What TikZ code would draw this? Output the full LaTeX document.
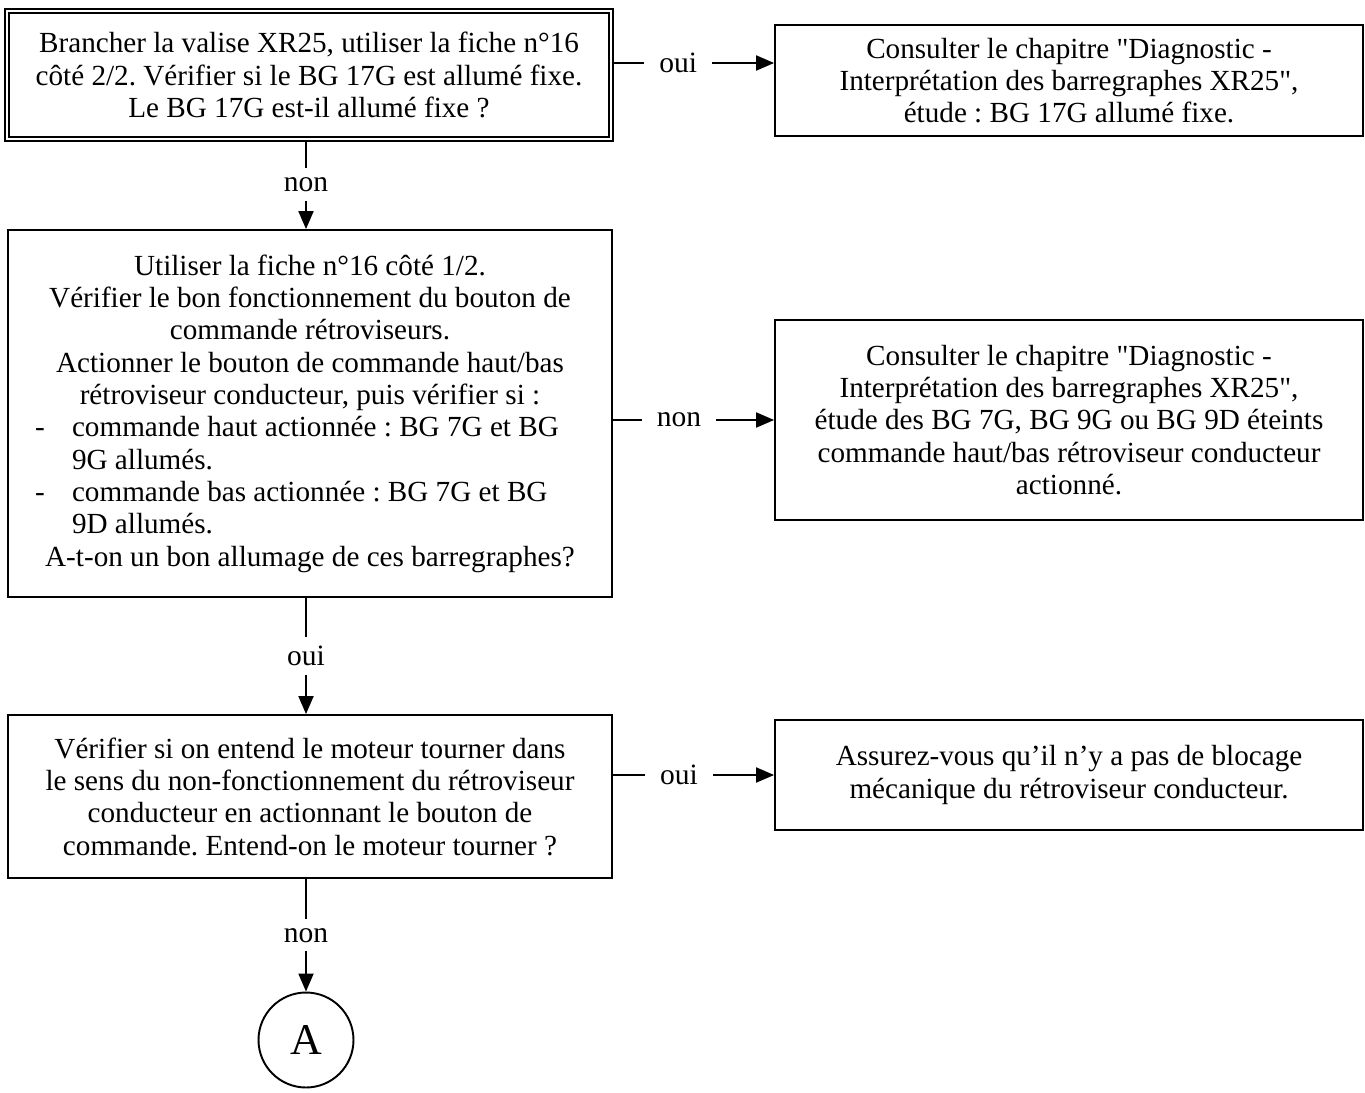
\documentclass[tikz,border=0pt]{standalone}
\usepackage{fontspec}
\setmainfont{Liberation Serif}
\usepackage{tikz}
\usetikzlibrary{arrows.meta, positioning}
\frenchspacing

\begin{document}
\begin{tikzpicture}[
    x=0.02cm, y=-0.02cm,
    box/.style={rectangle, draw, line width=1.1pt, minimum width=12.08cm, align=center, inner sep=0pt, font=\fontsize{16.6}{18.4}\selectfont},
    rbox/.style={box, minimum width=11.76cm},
    arrow/.style={-{Triangle[length=0.36cm,width=0.3cm]}, line width=1.1pt},
    lbl/.style={fill=white, inner xsep=0.3cm, inner ysep=0.18cm, font=\fontsize{16.8}{18}\selectfont}
]
\useasboundingbox (0,0) rectangle (1365,1092);

% left column
\node[box, double, double distance=1.4pt, line width=0.9pt, minimum width=12.08cm, minimum height=2.56cm] (fiche2) at (309,75)
    {Brancher la valise XR25, utiliser la fiche n°16\\
     côté 2/2. Vérifier si le BG 17G est allumé fixe.\\
     Le BG 17G est-il allumé fixe ?};
\node[box, minimum height=7.34cm] (fiche1) at (310,413.5)
    {Utiliser la fiche n°16 côté 1/2.\\
     Vérifier le bon fonctionnement du bouton de\\
     commande rétroviseurs.\\
     Actionner le bouton de commande haut/bas\\
     rétroviseur conducteur, puis vérifier si :\\
     \makebox[11.6cm][l]{\hspace*{0.3cm}\makebox[0.74cm][l]{-}commande haut actionnée : BG 7G et BG}\\
     \makebox[11.6cm][l]{\hspace*{1.04cm}9G allumés.}\\
     \makebox[11.6cm][l]{\hspace*{0.3cm}\makebox[0.74cm][l]{-}commande bas actionnée : BG 7G et BG}\\
     \makebox[11.6cm][l]{\hspace*{1.04cm}9D allumés.}\\
     A-t-on un bon allumage de ces barregraphes?};
\node[box, minimum height=3.26cm] (moteur) at (310,796.5)
    {Vérifier si on entend le moteur tourner dans\\
     le sens du non-fonctionnement du rétroviseur\\
     conducteur en actionnant le bouton de\\
     commande. Entend-on le moteur tourner ?};
\node[circle, draw, line width=1.1pt, minimum size=1.9cm, inner sep=0pt, font=\fontsize{25}{27}\selectfont] (suiteA) at (306,1040) {A};

% right column
\node[rbox, minimum height=2.22cm] (bg17) at (1069,80.5)
    {Consulter le chapitre \textquotedbl Diagnostic -\\
     Interprétation des barregraphes XR25\textquotedbl,\\
     étude : BG 17G allumé fixe.};
\node[rbox, minimum height=4cm] (bg79) at (1069,420)
    {Consulter le chapitre \textquotedbl Diagnostic -\\
     Interprétation des barregraphes XR25\textquotedbl,\\
     étude des BG 7G, BG 9G ou BG 9D éteints\\
     commande haut/bas rétroviseur conducteur\\
     actionné.};
\node[rbox, minimum height=2.2cm] (blocage) at (1069,775)
    {Assurez-vous qu’il n’y a pas de blocage\\
     mécanique du rétroviseur conducteur.};

% links
\coordinate (bg17in) at ([yshift=0.35cm]bg17.west);
\draw[arrow] (bg17in -| fiche2.east) -- node[lbl, pos=0.41] {oui} (bg17in);
\draw[arrow] (bg79.west -| fiche1.east) -- node[lbl, pos=0.41] {non} (bg79.west);
\draw[arrow] (blocage.west -| moteur.east) -- node[lbl, pos=0.41] {oui} (blocage.west);

\draw[arrow] (fiche2.south -| suiteA) -- node[lbl] {non} (fiche1.north -| suiteA);
\draw[arrow] (fiche1.south -| suiteA) -- node[lbl] {oui} (moteur.north -| suiteA);
\draw[arrow] (moteur.south -| suiteA) -- node[lbl] {non} (suiteA.north);

\end{tikzpicture}
\end{document}
